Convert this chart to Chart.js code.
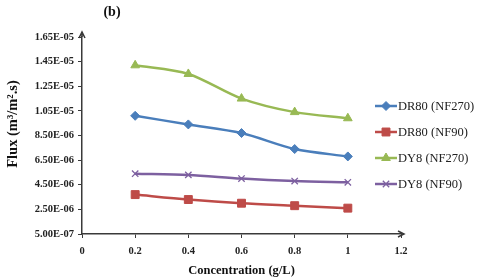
<!DOCTYPE html>
<html>
<head>
<meta charset="utf-8">
<script src="https://cdn.jsdelivr.net/npm/chart.js@4/dist/chart.umd.min.js"></script>
<style>
  html, body { margin: 0; padding: 0; background: #fff; }
  #wrap { width: 480px; height: 279px; position: relative; }
</style>
</head>
<body>
<div id="wrap"><canvas id="fluxChart" width="480" height="279"></canvas></div>
<script>
// values
const concentrations = [0.2, 0.4, 0.6, 0.8, 1.0];
const dr80Nf270 = [1.01e-5, 9.4e-6, 8.7e-6, 7.4e-6, 6.8e-6];
const dr80Nf90 = [3.7e-6, 3.3e-6, 3.0e-6, 2.8e-6, 2.6e-6];
const dy8Nf270 = [1.42e-5, 1.35e-5, 1.15e-5, 1.04e-5, 9.9e-6];
const dy8Nf90 = [5.4e-6, 5.3e-6, 5.0e-6, 4.8e-6, 4.7e-6];
const seriesNames = ['DR80 (NF270)', 'DR80 (NF90)', 'DY8 (NF270)', 'DY8 (NF90)'];
const xTicks = [0, 0.2, 0.4, 0.6, 0.8, 1.0, 1.2];
const yTicks = [5e-7, 2.5e-6, 4.5e-6, 6.5e-6, 8.5e-6, 1.05e-5, 1.25e-5, 1.45e-5, 1.65e-5];

const serif = "'Liberation Serif', 'Times New Roman', serif";
const axisColor = '#3a3a3a';

function sci(v) {
  const [m, e] = v.toExponential(2).split('e');
  const n = parseInt(e, 10);
  return m + 'E' + (n < 0 ? '-' : '+') + String(Math.abs(n)).padStart(2, '0');
}

function series(label, values, color, pointStyle, radius) {
  return {
    label,
    data: concentrations.map((x, i) => ({ x, y: values[i] })),
    borderColor: color,
    backgroundColor: color,
    borderWidth: 2.5,
    pointStyle,
    pointRadius: radius,
    pointBorderWidth: pointStyle === 'crossRot' ? 1.3 : 1,
    tension: 0.3
  };
}

const datasets = [
  series(seriesNames[0], dr80Nf270, '#4a7ebb', 'rectRot', 4.5),
  series(seriesNames[1], dr80Nf90, '#be4b48', 'rect', 5.6),
  series(seriesNames[2], dy8Nf270, '#98b954', 'triangle', 5),
  series(seriesNames[3], dy8Nf90, '#7d60a0', 'crossRot', 4.5)
];

const extras = {
  id: 'extras',
  afterDraw(chart) {
    const { ctx, chartArea: a } = chart;
    ctx.save();
    // axis arrows
    ctx.strokeStyle = axisColor;
    ctx.lineWidth = 1.5;
    ctx.beginPath();
    ctx.moveTo(a.left, a.top);
    ctx.lineTo(a.left, a.top - 5);
    ctx.moveTo(a.left - 3, a.top + 1);
    ctx.lineTo(a.left, a.top - 5);
    ctx.lineTo(a.left + 3, a.top + 1);
    ctx.moveTo(a.right, a.bottom);
    ctx.lineTo(a.right + 3, a.bottom);
    ctx.moveTo(a.right - 3, a.bottom - 3);
    ctx.lineTo(a.right + 3, a.bottom);
    ctx.lineTo(a.right - 3, a.bottom + 3);
    ctx.stroke();

    // panel label and y title
    ctx.fillStyle = '#111';
    ctx.font = 'bold 14px ' + serif;
    ctx.textAlign = 'center';
    ctx.textBaseline = 'middle';
    ctx.fillText('(b)', 112, 12);
    ctx.save();
    ctx.translate(13, 124);
    ctx.rotate(-Math.PI / 2);
    ctx.font = 'bold 14.5px ' + serif;
    ctx.fillText('Flux (m\u00b3/m\u00b2.s)', 0, 0);
    ctx.restore();

    // legend
    const rows = [106, 132, 158, 184];
    chart.data.datasets.forEach((ds, i) => {
      const y = rows[i];
      ctx.strokeStyle = ds.borderColor;
      ctx.fillStyle = ds.backgroundColor;
      ctx.lineWidth = 2.5;
      ctx.beginPath();
      ctx.moveTo(375, y);
      ctx.lineTo(397, y);
      ctx.stroke();
      ctx.lineWidth = ds.pointBorderWidth;
      if (Chart.helpers && Chart.helpers.drawPoint) {
        Chart.helpers.drawPoint(ctx, { pointStyle: ds.pointStyle, radius: ds.pointRadius, rotation: 0, borderWidth: ds.pointBorderWidth }, 386, y);
      }
      ctx.fillStyle = '#222';
      ctx.font = '12.5px ' + serif;
      ctx.textAlign = 'left';
      ctx.fillText(ds.label, 398, y + 1);
    });
    ctx.restore();
  }
};

new Chart(document.getElementById('fluxChart'), {
  type: 'line',
  data: { datasets },
  options: {
    responsive: false,
    animation: false,
    layout: { padding: { top: 37, right: 79, left: 0, bottom: 0 } },
    plugins: { legend: { display: false }, tooltip: { enabled: false } },
    scales: {
      x: {
        type: 'linear',
        min: 0,
        max: 1.2,
        afterBuildTicks: (s) => { s.ticks = xTicks.map((v) => ({ value: v })); },
        afterFit: (s) => { s.height = 45; },
        border: { color: axisColor, width: 1.5 },
        grid: { drawOnChartArea: false, tickLength: 4, color: axisColor },
        ticks: {
          color: '#222',
          font: { family: serif, size: 10.5, weight: 'bold' },
          padding: 7,
          maxRotation: 0,
          callback: (v) => String(parseFloat(v.toFixed(1)))
        },
        title: {
          display: true,
          text: 'Concentration (g/L)',
          color: '#111',
          font: { family: serif, size: 12.5, weight: 'bold' },
          padding: { top: 0, bottom: 1 }
        }
      },
      y: {
        type: 'linear',
        min: 5e-7,
        max: 1.65e-5,
        afterBuildTicks: (s) => { s.ticks = yTicks.map((v) => ({ value: v })); },
        afterFit: (s) => { s.width = 82; },
        border: { color: axisColor, width: 1.5 },
        grid: { drawOnChartArea: false, tickLength: 4, color: axisColor },
        ticks: {
          color: '#222',
          font: { family: serif, size: 10.5, weight: 'bold' },
          padding: 4,
          callback: (v) => sci(v)
        }
      }
    }
  },
  plugins: [extras]
});
</script>
</body>
</html>
